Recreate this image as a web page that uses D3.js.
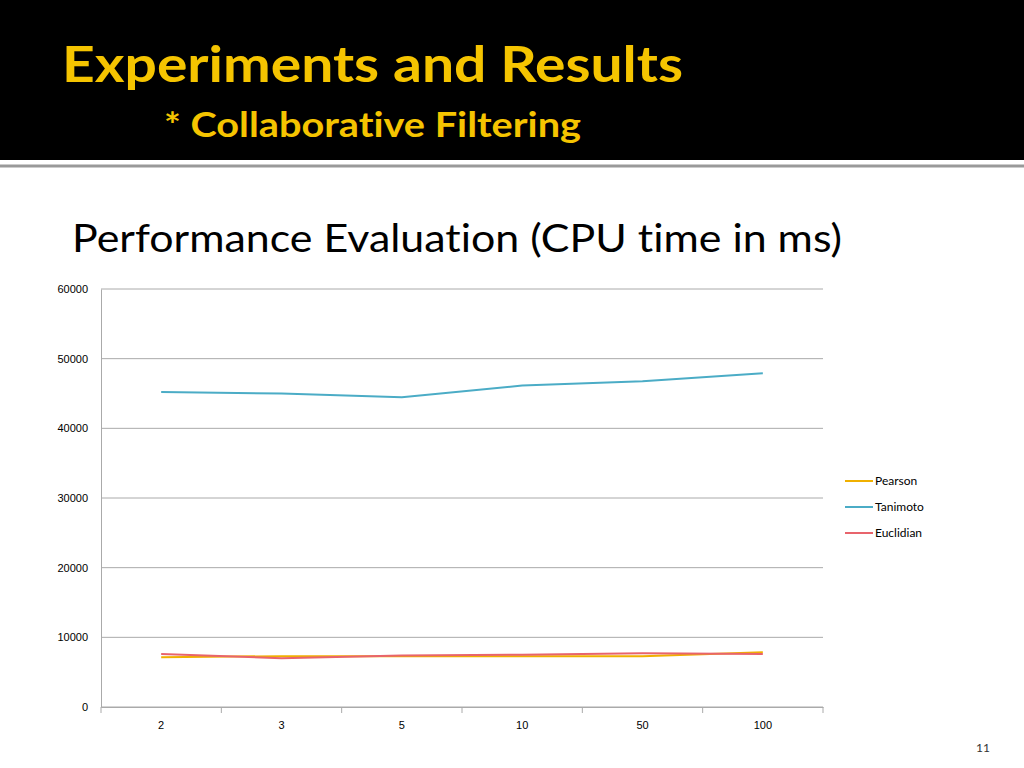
<!DOCTYPE html>
<html><head><meta charset="utf-8">
<script src="https://cdn.jsdelivr.net/npm/d3@7"></script>
<style>body{margin:0;background:#fff}svg{display:block;font-family:Lato,"Open Sans",sans-serif;font-variant-ligatures:none}</style>
</head><body><svg id="chart" width="1024" height="768"></svg>
<script>
// данные графика
const categories = ['2', '3', '5', '10', '50', '100']
const pearson = [7150, 7300, 7300, 7300, 7300, 7850]
const tanimoto = [45200, 45000, 44450, 46150, 46750, 47900]
const euclidian = [7600, 7000, 7400, 7500, 7700, 7600]
const yTicks = [0, 10000, 20000, 30000, 40000, 50000, 60000]
const seriesNames = ['Pearson', 'Tanimoto', 'Euclidian']
const colors = ['#f0b000', '#4bacc6', '#e8646c']

const svg = d3.select('#chart')

// шапка слайда
svg.append('rect').attr('width', 1024).attr('height', 160).attr('fill', '#000')
svg.append('line').attr('x1', 0).attr('x2', 1024).attr('y1', 166).attr('y2', 166).attr('stroke', '#999').attr('stroke-width', 3)
svg.append('text').attr('x', 62).attr('y', 82).attr('fill', '#f5c400').attr('font-size', 50).attr('font-weight', 'bold')
	.attr('textLength', 621).attr('lengthAdjust', 'spacingAndGlyphs').text('Experiments and Results')
svg.append('text').attr('x', 164).attr('y', 137).attr('fill', '#f5c400').attr('font-size', 34).attr('font-weight', 'bold')
	.attr('textLength', 417).attr('lengthAdjust', 'spacingAndGlyphs').text('* Collaborative Filtering')
svg.append('text').attr('x', 72).attr('y', 252).attr('fill', '#000').attr('font-size', 38)
	.attr('textLength', 770).attr('lengthAdjust', 'spacingAndGlyphs').text('Performance Evaluation (CPU time in ms)')
svg.append('text').attr('x', 990).attr('y', 752).attr('text-anchor', 'end').attr('fill', '#333').attr('font-size', 12).text('11')

const x = d3.scaleBand().domain(categories).range([101, 823])
const y = d3.scaleLinear().domain([0, 60000]).range([707, 289])

// сетка
svg.append('g').selectAll('line').data(yTicks).enter().append('line')
	.attr('x1', 101).attr('x2', 823).attr('y1', d => y(d)).attr('y2', d => y(d))
	.attr('stroke', '#aaa').attr('stroke-width', 1)

const yAxis = svg.append('g').attr('transform', 'translate(101,0)')
	.call(d3.axisLeft(y).tickValues(yTicks).tickFormat(d3.format('d')).tickSize(0).tickPadding(13))
yAxis.select('.domain').attr('stroke', '#aaa')
yAxis.selectAll('text').attr('font-size', 11).attr('fill', '#000')

const xAxis = svg.append('g').attr('transform', 'translate(0,707)')
	.call(d3.axisBottom(x).tickSizeOuter(0).tickSize(0).tickPadding(14))
xAxis.select('.domain').attr('stroke', '#aaa')
xAxis.selectAll('text').attr('font-size', 11).attr('fill', '#000')
// засечки между категориями
svg.append('g').selectAll('line').data(d3.range(categories.length + 1)).enter().append('line')
	.attr('x1', i => 101 + i * x.step()).attr('x2', i => 101 + i * x.step())
	.attr('y1', 707).attr('y2', 713).attr('stroke', '#aaa')

const line = d3.line().x((d, i) => x(categories[i]) + x.bandwidth() / 2).y(d => y(d))
;[pearson, tanimoto, euclidian].forEach((s, i) => {
	svg.append('path').datum(s).attr('d', line).attr('fill', 'none')
		.attr('stroke', colors[i]).attr('stroke-width', 2)
})

// легенда
seriesNames.forEach((n, i) => {
	const ly = 481 + i * 26
	svg.append('line').attr('x1', 845).attr('x2', 873).attr('y1', ly).attr('y2', ly).attr('stroke', colors[i]).attr('stroke-width', 2)
	svg.append('text').attr('x', 875).attr('y', ly + 4).attr('font-size', 12).text(n)
})
</script></body></html>
